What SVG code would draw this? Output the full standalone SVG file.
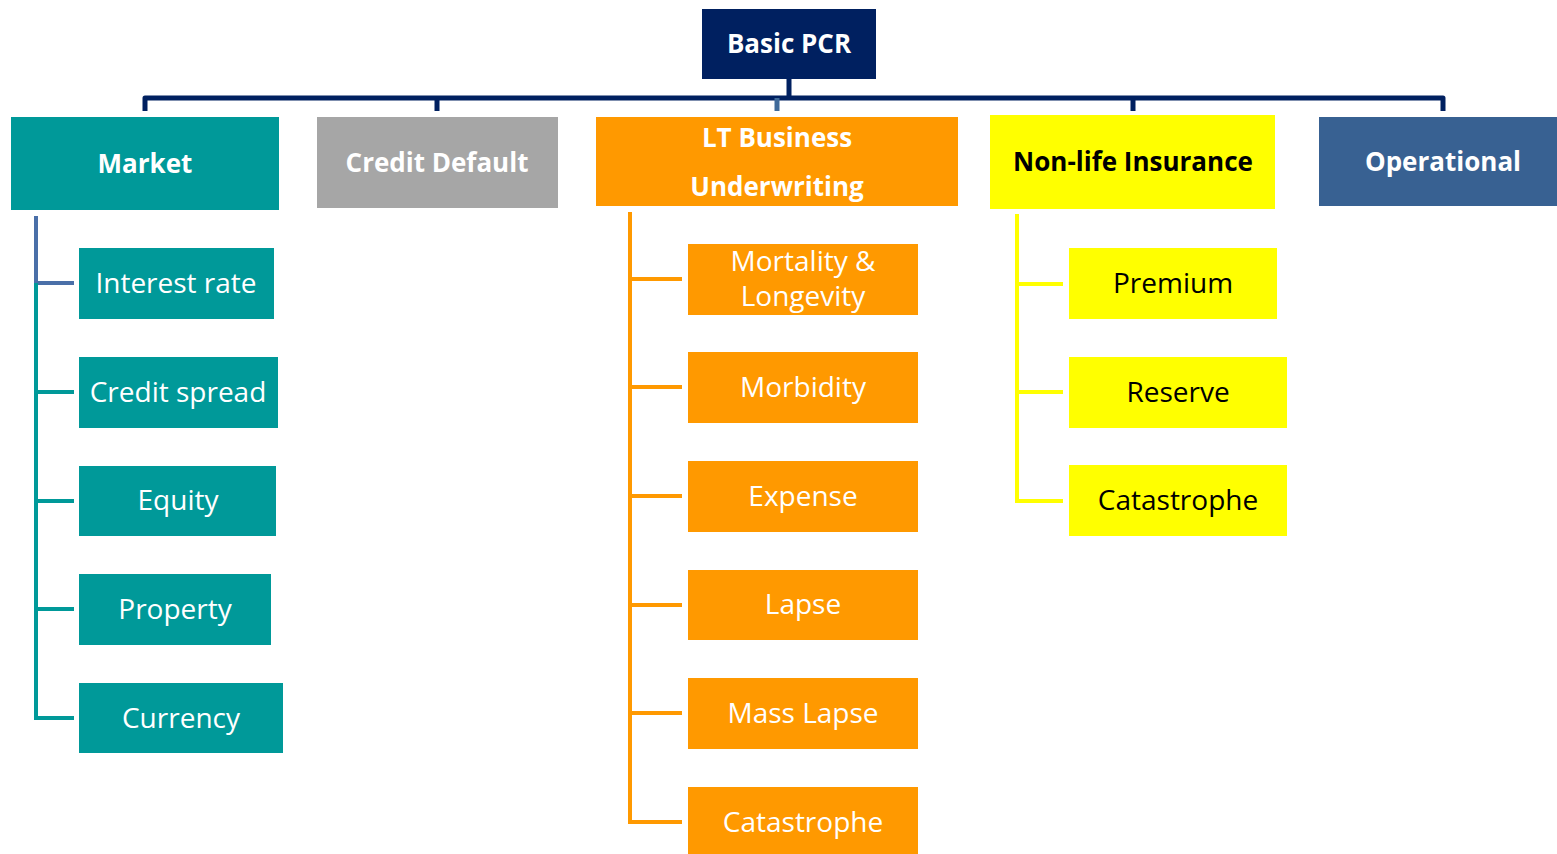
<svg xmlns="http://www.w3.org/2000/svg" width="1557" height="854" viewBox="0 0 1557 854">
<style>
text{font-family:"Open Sans","Noto Sans","Liberation Sans",sans-serif;text-anchor:middle}
.h{font-size:26px;font-weight:bold;fill:#fff}
.hk{fill:#000}
.c{font-size:28px;fill:#fff}
.ck{fill:#000}
.bus{stroke:#002060;stroke-width:5;fill:none;stroke-linejoin:round}
.tl{stroke:#009999;stroke-width:4;fill:none}
.ol{stroke:#FF9900;stroke-width:4;fill:none}
.yl{stroke:#FFFF00;stroke-width:4;fill:none}
.teal{fill:#009999}
.org{fill:#FF9900}
.yel{fill:#FFFF00}
</style>
<g id="connectors">
<path class="bus" d="M145,111 V98 H1443 V111"/>
<path class="bus" d="M437,98 V111 M1133,98 V111 M789,79 V98"/>
<path d="M777,98 V111" stroke="#3F6A9A" stroke-width="5"/>
<path d="M36,216 V283 H74" stroke="#4A6FA8" stroke-width="4" fill="none"/>
<path class="tl" d="M36,283 V718 H74 M36,392 H74 M36,501 H74 M36,609 H74"/>
<path class="ol" d="M630,212 V822 H682 M630,279 H682 M630,387 H682 M630,496 H682 M630,605 H682 M630,713 H682"/>
<path class="yl" d="M1017,214 V501 H1063 M1017,284 H1063 M1017,392 H1063"/>
</g>
<g id="basic-pcr"><rect x="702" y="9" width="174" height="70" fill="#002060"/><text class="h" x="789" y="53">Basic PCR</text></g>
<g id="market"><rect x="11" y="117" width="268" height="93" class="teal"/><text class="h" x="145" y="173">Market</text></g>
<g id="credit-default"><rect x="317" y="117" width="241" height="91" fill="#A6A6A6"/><text class="h" x="437" y="172">Credit Default</text></g>
<g id="lt-business"><rect x="596" y="117" width="362" height="89" class="org"/><text class="h" x="777" y="147">LT Business</text><text class="h" x="777" y="196">Underwriting</text></g>
<g id="non-life"><rect x="990" y="115" width="285" height="94" class="yel"/><text class="h hk" x="1133" y="171">Non-life Insurance</text></g>
<g id="operational"><rect x="1319" y="117" width="238" height="89" fill="#386192"/><text class="h" x="1443" y="171">Operational</text></g>
<g id="interest-rate"><rect x="79" y="248" width="195" height="71" class="teal"/><text class="c" x="176" y="293">Interest rate</text></g>
<g id="credit-spread"><rect x="79" y="357" width="199" height="71" class="teal"/><text class="c" x="178" y="402">Credit spread</text></g>
<g id="equity"><rect x="79" y="466" width="197" height="70" class="teal"/><text class="c" x="178" y="510">Equity</text></g>
<g id="property"><rect x="79" y="574" width="192" height="71" class="teal"/><text class="c" x="175" y="619">Property</text></g>
<g id="currency"><rect x="79" y="683" width="204" height="70" class="teal"/><text class="c" x="181" y="728">Currency</text></g>
<g id="mortality"><rect x="688" y="244" width="230" height="71" class="org"/><text class="c" x="803" y="271">Mortality &amp;</text><text class="c" x="803" y="306">Longevity</text></g>
<g id="morbidity"><rect x="688" y="352" width="230" height="71" class="org"/><text class="c" x="803" y="397">Morbidity</text></g>
<g id="expense"><rect x="688" y="461" width="230" height="71" class="org"/><text class="c" x="803" y="506">Expense</text></g>
<g id="lapse"><rect x="688" y="570" width="230" height="70" class="org"/><text class="c" x="803" y="614">Lapse</text></g>
<g id="mass-lapse"><rect x="688" y="678" width="230" height="71" class="org"/><text class="c" x="803" y="723">Mass Lapse</text></g>
<g id="lt-catastrophe"><rect x="688" y="787" width="230" height="67" class="org"/><text class="c" x="803" y="832">Catastrophe</text></g>
<g id="premium"><rect x="1069" y="248" width="208" height="71" class="yel"/><text class="c ck" x="1173" y="293">Premium</text></g>
<g id="reserve"><rect x="1069" y="357" width="218" height="71" class="yel"/><text class="c ck" x="1178" y="402">Reserve</text></g>
<g id="nl-catastrophe"><rect x="1069" y="465" width="218" height="71" class="yel"/><text class="c ck" x="1178" y="510">Catastrophe</text></g>
</svg>
